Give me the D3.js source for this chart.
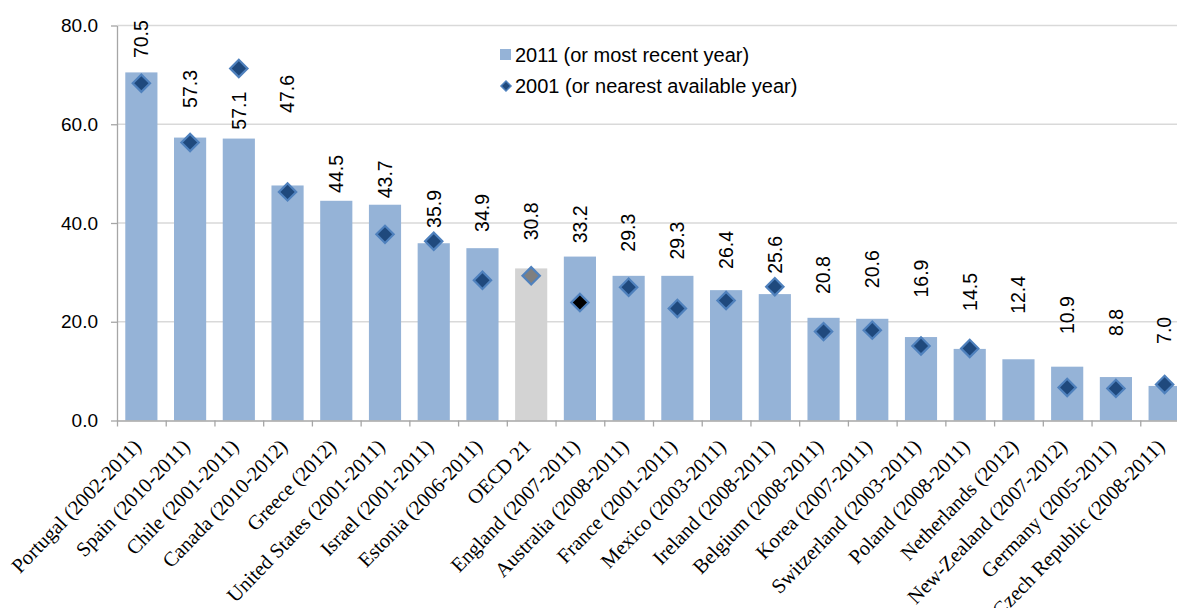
<!DOCTYPE html>
<html lang="en">
<head>
    <style>
        body { margin: 0; background: #fff; }
        .bar { fill: #95b3d7; }
        .bar.avg { fill: #d3d3d3; }
        .grid line { stroke: #d9d9d9; stroke-width: 1.3; }
        .axis path, .axis line { stroke: #a6a6a6; stroke-width: 1.3; }
        .axis text { font-family: Arial, "Liberation Sans", sans-serif; font-size: 19px; fill: #000; }
        .val { font-family: Arial, "Liberation Sans", sans-serif; font-size: 19.5px; fill: #000; }
        .cat { font-family: "Times New Roman", "Liberation Serif", serif; font-size: 20.5px; fill: #000; }
        .legend text { font-family: Arial, "Liberation Sans", sans-serif; font-size: 20px; fill: #000; }
    </style>
    <script src="https://d3js.org/d3.v7.min.js"></script>
</head>
<body>
    <svg width="1177" height="608"></svg>
    <script>
        var categories = ["Portugal (2002-2011)", "Spain (2010-2011)", "Chile (2001-2011)", "Canada (2010-2012)",
            "Greece (2012)", "United States (2001-2011)", "Israel (2001-2011)", "Estonia  (2006-2011)", "OECD 21",
            "England (2007-2011)", "Australia (2008-2011)", "France (2001-2011)", "Mexico (2003-2011)",
            "Ireland (2008-2011)", "Belgium (2008-2011)", "Korea (2007-2011)", "Switzerland (2003-2011)",
            "Poland (2008-2011)", "Netherlands (2012)", "New-Zealand (2007-2012)", "Germany (2005-2011)",
            "Czech Republic (2008-2011)"];

        var values2011 = [70.5, 57.3, 57.1, 47.6, 44.5, 43.7, 35.9, 34.9, 30.8, 33.2, 29.3,
            29.3, 26.4, 25.6, 20.8, 20.6, 16.9, 14.5, 12.4, 10.9, 8.8, 7.0];

        // null = no earlier observation
        var values2001 = [68.3, 56.3, 71.3, 46.3, null, 37.7, 36.3, 28.4, 29.3, 23.9, 27.0,
            22.7, 24.3, 27.1, 18.0, 18.3, 15.1, 14.6, null, 6.7, 6.5, 7.3];

        // where each value label sits, in chart units
        var labelAt = [73.4, 63.3, 58.9, 62.3, 46.1, 45.0, 39.0, 38.2, 36.5, 35.9, 34.2,
            32.6, 30.7, 29.7, 25.6, 26.8, 24.9, 22.2, 21.6, 17.5, 17.1, 15.5];

        var yTicks = [0, 20, 40, 60, 80];
        var legendLabels = ["2011 (or most recent year)", "2001 (or nearest available year)"];

        var svg = d3.select("svg"),
            plotLeft = 117, plotRight = 1189, plotTop = 25.5, plotBottom = 420.5;

        var x = d3.scaleBand().domain(categories).range([plotLeft, plotRight])
            .paddingInner(0.34).paddingOuter(0.17);
        var xi = d3.scaleLinear().domain([0, categories.length]).range([plotLeft, plotRight]);
        var y = d3.scaleLinear().domain([0, 80]).range([plotBottom, plotTop]);

        function cx(i) { return x(categories[i]) + x.bandwidth() / 2; }

        // gridlines
        svg.append("g").attr("class", "grid")
            .selectAll("line")
            .data(yTicks.filter(function(d) { return d > 0; }))
            .enter().append("line")
            .attr("x1", plotLeft).attr("x2", 1177)
            .attr("y1", function(d) { return y(d); })
            .attr("y2", function(d) { return y(d); });

        // bars
        svg.selectAll(".bar")
            .data(values2011)
            .enter().append("rect")
            .attr("class", function(d, i) { return categories[i] === "OECD 21" ? "bar avg" : "bar"; })
            .attr("x", function(d, i) { return x(categories[i]); })
            .attr("y", function(d) { return y(d); })
            .attr("width", x.bandwidth())
            .attr("height", function(d) { return y(0) - y(d); });

        // axes
        svg.append("g").attr("class", "axis")
            .attr("transform", "translate(" + plotLeft + ",0)")
            .call(d3.axisLeft(y).tickValues(yTicks).tickFormat(d3.format(".1f"))
                .tickSize(6).tickSizeOuter(0).tickPadding(13));

        svg.append("g").attr("class", "axis")
            .attr("transform", "translate(0," + plotBottom + ")")
            .call(d3.axisBottom(xi).tickValues(d3.range(categories.length + 1))
                .tickFormat("").tickSize(6).tickSizeOuter(0));

        // 2001 diamonds
        var pts = d3.range(categories.length).filter(function(i) { return values2001[i] !== null; });
        var diamond = d3.symbol().type(d3.symbolSquare).size(150);
        svg.selectAll(".pt")
            .data(pts)
            .enter().append("path")
            .attr("class", "pt")
            .attr("d", diamond)
            .attr("transform", function(i) {
                return "translate(" + cx(i) + "," + y(values2001[i]) + ") rotate(45)";
            })
            .attr("fill", function(i) {
                if (categories[i] === "OECD 21") return "#7f7f7f";
                if (categories[i].indexOf("England") === 0) return "#000";
                return "#1f497d";
            })
            .attr("stroke", "#4f81bd")
            .attr("stroke-width", 2.2);

        // value labels
        svg.selectAll(".val")
            .data(values2011)
            .enter().append("text")
            .attr("class", "val")
            .attr("transform", function(d, i) {
                return "translate(" + cx(i) + "," + y(labelAt[i]) + ") rotate(-90)";
            })
            .attr("dy", "0.35em")
            .text(function(d) { return d3.format(".1f")(d); });

        // category labels
        svg.selectAll(".cat")
            .data(categories)
            .enter().append("text")
            .attr("class", "cat")
            .attr("text-anchor", "end")
            .attr("transform", function(d, i) {
                return "translate(" + (cx(i) + 1) + "," + (plotBottom + 27) + ") rotate(-46)";
            })
            .text(function(d) { return d; });

        // legend
        var legend = svg.append("g").attr("class", "legend");
        legend.append("rect")
            .attr("x", 500).attr("y", 49).attr("width", 11).attr("height", 11)
            .attr("fill", "#95b3d7");
        legend.append("path")
            .attr("d", d3.symbol().type(d3.symbolSquare).size(50))
            .attr("transform", "translate(506,86) rotate(45)")
            .attr("fill", "#1f497d").attr("stroke", "#4f81bd").attr("stroke-width", 1.5);
        legend.selectAll("text")
            .data(legendLabels)
            .enter().append("text")
            .attr("x", 515)
            .attr("y", function(d, i) { return 55 + i * 31; })
            .attr("dy", "0.35em")
            .text(function(d) { return d; });
    </script>
</body>
</html>
